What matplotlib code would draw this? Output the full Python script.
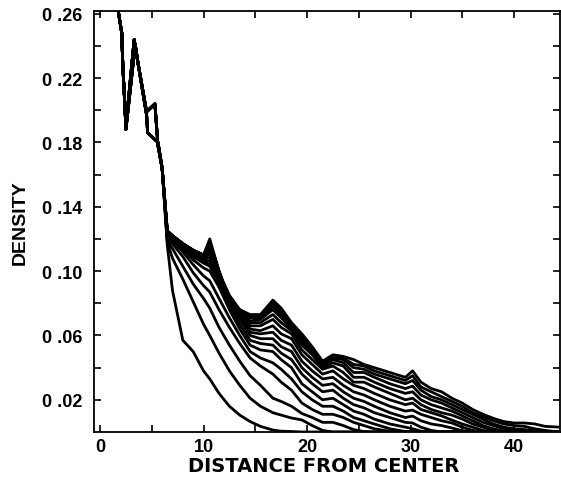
import matplotlib
matplotlib.use("Agg")
import matplotlib.pyplot as plt
from matplotlib.ticker import FixedLocator

# common head of all profiles (two strands near r = 5)
head_x_a = [1.5, 2.1, 2.2, 2.4, 2.5, 3.3, 3.6, 4.5, 5.3, 5.6, 6.0]
head_y_a = [0.272, 0.248, 0.228, 0.203, 0.190, 0.244, 0.232, 0.199, 0.204, 0.178, 0.164]
head_x_b = [1.5, 2.1, 2.2, 2.4, 2.5, 3.4, 3.7, 4.5, 4.6, 5.6, 6.0]
head_y_b = [0.272, 0.248, 0.228, 0.203, 0.188, 0.241, 0.228, 0.197, 0.186, 0.180, 0.164]

# distance grid for the diverging part
dist = [6.5, 7, 8, 9, 10, 10.6, 11.5, 12.5, 13.5, 14.5, 15.5, 16.7, 17.5, 18.5,
        19.5, 20.5, 21.5, 22.5, 23.5, 24.5, 25.5, 26.5, 28, 29.5, 30.2, 31, 32,
        33, 34, 35, 36, 37, 38, 39, 40, 41, 42, 43, 44.4]

dens_01 = [0.116, 0.088, 0.057, 0.050, 0.038, 0.033, 0.024, 0.016, 0.0105, 0.0065,
           0.0035, 0.0012, 0.0005, 0.0003, 0, 0, 0, 0, 0, 0, 0, 0, 0, 0, 0, 0, 0,
           0, 0, 0, 0, 0, 0, 0, 0, 0, 0, 0, 0]
dens_02 = [0.118, 0.108, 0.095, 0.081, 0.067, 0.060, 0.049, 0.038, 0.029, 0.021,
           0.016, 0.012, 0.0105, 0.0087, 0.0075, 0.004, 0.001, 0, 0, 0, 0, 0, 0, 0,
           0, 0, 0, 0, 0, 0, 0, 0, 0, 0, 0, 0, 0, 0, 0]
dens_03 = [0.119, 0.114, 0.103, 0.092, 0.083, 0.077, 0.065, 0.054, 0.044, 0.035,
           0.029, 0.021, 0.019, 0.016, 0.0115, 0.009, 0.006, 0.006, 0.004, 0.0015,
           0.0003, 0, 0, 0, 0, 0, 0, 0, 0, 0, 0, 0, 0, 0, 0, 0, 0, 0, 0]
dens_04 = [0.120, 0.117, 0.109, 0.099, 0.091, 0.087, 0.076, 0.065, 0.055, 0.046,
           0.041, 0.036, 0.031, 0.026, 0.018, 0.014, 0.011, 0.011, 0.009, 0.006,
           0.004, 0.002, 0.0004, 0, 0, 0, 0, 0, 0, 0, 0, 0, 0, 0, 0, 0, 0, 0, 0]
dens_05 = [0.121, 0.119, 0.112, 0.104, 0.097, 0.094, 0.083, 0.071, 0.060, 0.050,
           0.046, 0.043, 0.039, 0.033, 0.025, 0.020, 0.016, 0.016, 0.013, 0.009,
           0.007, 0.005, 0.002, 0.0003, 0, 0, 0, 0, 0, 0, 0, 0, 0, 0, 0, 0, 0, 0, 0]
dens_06 = [0.122, 0.120, 0.114, 0.107, 0.102, 0.100, 0.090, 0.076, 0.064, 0.054,
           0.051, 0.050, 0.045, 0.040, 0.030, 0.025, 0.020, 0.021, 0.017, 0.013,
           0.011, 0.008, 0.005, 0.003, 0.002, 0.0005, 0, 0, 0, 0, 0, 0, 0, 0, 0, 0,
           0, 0, 0]
dens_07 = [0.123, 0.120, 0.115, 0.109, 0.105, 0.103, 0.093, 0.079, 0.067, 0.057,
           0.055, 0.054, 0.049, 0.045, 0.036, 0.030, 0.025, 0.026, 0.021, 0.017,
           0.015, 0.012, 0.009, 0.006, 0.0056, 0.003, 0.001, 0, 0, 0, 0, 0, 0, 0,
           0, 0, 0, 0, 0]
dens_08 = [0.123, 0.121, 0.116, 0.110, 0.106, 0.104, 0.095, 0.080, 0.070, 0.060,
           0.058, 0.058, 0.053, 0.050, 0.040, 0.034, 0.029, 0.030, 0.025, 0.021,
           0.019, 0.016, 0.012, 0.009, 0.0099, 0.007, 0.005, 0.004, 0.0025, 0.0008,
           0, 0, 0, 0, 0, 0, 0, 0, 0]
dens_09 = [0.124, 0.121, 0.116, 0.111, 0.107, 0.106, 0.097, 0.082, 0.072, 0.062,
           0.061, 0.062, 0.057, 0.054, 0.044, 0.038, 0.033, 0.034, 0.029, 0.025,
           0.023, 0.020, 0.016, 0.013, 0.0136, 0.011, 0.009, 0.007, 0.0056, 0.003,
           0.001, 0, 0, 0, 0, 0, 0, 0, 0]
dens_10 = [0.124, 0.122, 0.117, 0.112, 0.108, 0.108, 0.098, 0.083, 0.074, 0.064,
           0.063, 0.066, 0.061, 0.058, 0.048, 0.042, 0.036, 0.038, 0.033, 0.029,
           0.027, 0.024, 0.020, 0.017, 0.018, 0.014, 0.012, 0.010, 0.0074, 0.005,
           0.003, 0.001, 0, 0, 0, 0, 0, 0, 0]
dens_11 = [0.124, 0.122, 0.117, 0.112, 0.109, 0.110, 0.099, 0.085, 0.076, 0.066,
           0.066, 0.070, 0.065, 0.061, 0.051, 0.045, 0.039, 0.041, 0.037, 0.031,
           0.031, 0.028, 0.024, 0.020, 0.021, 0.017, 0.014, 0.012, 0.0105, 0.008,
           0.005, 0.003, 0.001, 0, 0, 0, 0, 0, 0]
dens_12 = [0.125, 0.122, 0.117, 0.113, 0.109, 0.112, 0.099, 0.080, 0.074, 0.068,
           0.068, 0.073, 0.068, 0.063, 0.054, 0.048, 0.040, 0.043, 0.041, 0.034,
           0.034, 0.031, 0.027, 0.024, 0.025, 0.020, 0.017, 0.015, 0.013, 0.010,
           0.007, 0.004, 0.002, 0.0005, 0, 0, 0, 0, 0]
dens_13 = [0.125, 0.122, 0.117, 0.113, 0.110, 0.114, 0.099, 0.081, 0.075, 0.069,
           0.070, 0.076, 0.071, 0.064, 0.056, 0.050, 0.041, 0.045, 0.043, 0.037,
           0.037, 0.034, 0.030, 0.027, 0.0285, 0.023, 0.020, 0.018, 0.015, 0.012,
           0.009, 0.006, 0.004, 0.002, 0.001, 0.0003, 0, 0, 0]
dens_14 = [0.125, 0.122, 0.117, 0.113, 0.110, 0.116, 0.100, 0.081, 0.075, 0.071,
           0.071, 0.078, 0.073, 0.065, 0.058, 0.051, 0.042, 0.046, 0.045, 0.040,
           0.039, 0.036, 0.033, 0.030, 0.032, 0.026, 0.022, 0.020, 0.017, 0.014,
           0.011, 0.008, 0.005, 0.003, 0.002, 0.0015, 0.0008, 0, 0]
dens_15 = [0.125, 0.122, 0.117, 0.113, 0.110, 0.118, 0.100, 0.082, 0.076, 0.072,
           0.072, 0.080, 0.075, 0.066, 0.060, 0.052, 0.043, 0.047, 0.046, 0.042,
           0.041, 0.038, 0.035, 0.032, 0.035, 0.028, 0.025, 0.022, 0.019, 0.016,
           0.012, 0.0095, 0.007, 0.005, 0.004, 0.0035, 0.002, 0.001, 0]
dens_16 = [0.125, 0.122, 0.117, 0.113, 0.110, 0.120, 0.100, 0.082, 0.076, 0.073,
           0.073, 0.082, 0.077, 0.068, 0.061, 0.053, 0.044, 0.048, 0.047, 0.045,
           0.042, 0.040, 0.037, 0.034, 0.038, 0.031, 0.027, 0.025, 0.021, 0.018,
           0.014, 0.011, 0.0085, 0.0065, 0.0056, 0.0056, 0.005, 0.0035, 0.003]

profiles = [dens_01, dens_02, dens_03, dens_04, dens_05, dens_06, dens_07, dens_08,
            dens_09, dens_10, dens_11, dens_12, dens_13, dens_14, dens_15, dens_16]

x_major = [0, 10, 20, 30, 40]
x_minor = [5, 15, 25, 35]
y_labelled = [0.02, 0.06, 0.10, 0.14, 0.18, 0.22, 0.26]
y_labels = ["0 .02", "0 .06", "0 .10", "0 .14", "0 .18", "0 .22", "0 .26"]
y_minor = [0.04, 0.08, 0.12, 0.16, 0.20, 0.24]

plt.rcParams["font.family"] = ["Liberation Sans", "DejaVu Sans"]
plt.rcParams["font.weight"] = "bold"

fig = plt.figure(figsize=(5.61, 4.81), dpi=100)
ax = fig.add_axes([0.1676, 0.0998, 0.8306, 0.875])

for i, dens in enumerate(profiles):
    if i % 2 == 0:
        hx, hy = head_x_a, head_y_a
    else:
        hx, hy = head_x_b, head_y_b
    ax.plot(hx + dist, hy + dens, color="black", linewidth=2.0,
            solid_joinstyle="round", solid_capstyle="round")

ax.set_xlim(-0.58, 44.44)
ax.set_ylim(0, 0.2616)

ax.xaxis.set_major_locator(FixedLocator(x_major))
ax.xaxis.set_minor_locator(FixedLocator(x_minor))
ax.yaxis.set_major_locator(FixedLocator(y_labelled))
ax.yaxis.set_minor_locator(FixedLocator(y_minor))
ax.set_xticklabels([str(v) for v in x_major], fontsize=13, fontweight="bold")
ax.set_yticklabels(y_labels, fontsize=13, fontweight="bold")

ax.tick_params(which="both", direction="in", top=True, right=True,
               length=5, width=1.2)
ax.tick_params(axis="x", which="both", pad=4)
ax.tick_params(axis="y", which="both", pad=8.5)
for s in ax.spines.values():
    s.set_linewidth(1.3)

fig.text(324 / 561, 1 - 467 / 481, "DISTANCE FROM CENTER", fontsize=14,
         fontweight="bold", family=["DejaVu Sans"], ha="center", va="center")
fig.text(20 / 561, 1 - 223 / 481, "DENSITY", fontsize=14, fontweight="bold",
         rotation=90, ha="center", va="center")

fig.savefig("out.png", dpi=100)
plt.close(fig)
